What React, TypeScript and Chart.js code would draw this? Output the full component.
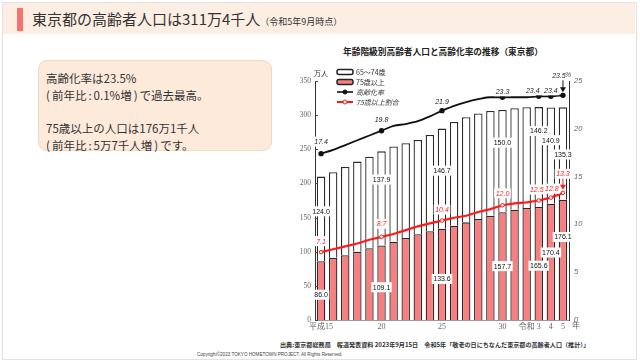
import React, { useEffect, useRef } from "react";
import { Chart, registerables } from "chart.js";
Chart.register(...registerables);

// ---- data ----
const categories = ["平成15", "16", "17", "18", "19", "20", "21", "22", "23", "24", "25", "26", "27", "28", "29", "30", "令和元", "2", "3", "4", "5"];
const xTickLabels = ["平成15", "", "", "", "", "20", "", "", "", "", "25", "", "", "", "", "30", "", "令和", "3", "4", "5"];
const age75plus = [86.0, 91.0, 95.0, 100.0, 105.0, 109.1, 114.5, 120.0, 125.5, 130.0, 133.6, 138.0, 143.0, 148.0, 152.5, 157.7, 161.5, 164.0, 165.6, 170.4, 176.1];
const age65to74 = [124.0, 125.5, 129.0, 132.0, 134.0, 137.9, 139.5, 139.0, 138.0, 141.0, 146.7, 152.0, 154.0, 154.5, 153.5, 150.0, 148.5, 147.5, 146.2, 140.9, 135.3];
const agingRate = [17.4, 17.8, 18.3, 18.8, 19.3, 19.8, 20.3, 20.5, 20.8, 21.3, 21.9, 22.4, 22.8, 23.1, 23.3, 23.3, 23.3, 23.3, 23.4, 23.4, 23.5];
const ratio75plus = [7.1, 7.4, 7.7, 8.0, 8.4, 8.7, 9.0, 9.4, 9.8, 10.1, 10.4, 10.7, 10.9, 11.3, 11.6, 12.0, 12.2, 12.3, 12.5, 12.8, 13.3];
const labeledIdx = [0, 5, 10, 15, 18, 19, 20];
const leftTicks = [0, 50, 100, 150, 200, 250, 300, 350];
const legendLabels = ["65～74歳", "75歳以上", "高齢化率", "75歳以上割合"];

const SANS = '"Liberation Sans", "Noto Sans CJK JP", sans-serif';
const CJK = '"Noto Sans CJK JP", sans-serif';
const SERIF = '"Liberation Serif", "Noto Sans CJK JP", serif';

// label placement helpers (fraction within segment / px above point)
const lowerFrac = [0.43, 0.44, 0.45, 0.5, 0.48, 0.58, 0.69];
const upperFrac = [0.59, 0.7, 0.58, 0.68, 0.76, 0.66, 0.49];
const blackAbove = [12, 11, 9, 6, 6, 6, 20];
const blackDx = [0, 0, 0, 0, -6, 0, -4];
const redAbove = [11, 13, 11, 12, 11, 9, 19];
const redDx = [0, 0, 0, 0, -2, 1, 0];

const overlay = {
  id: "overlay",
  afterDatasetsDraw(chart: any) {
    const { ctx, chartArea, scales } = chart;
    const xs = scales.x, ys = scales.y, y2 = scales.y2;
    ctx.save();

    // inward ticks on left axis
    ctx.strokeStyle = "#444";
    ctx.lineWidth = 1;
    for (const v of leftTicks) {
      const py = Math.round(ys.getPixelForValue(v)) + 0.5;
      ctx.beginPath();
      ctx.moveTo(chartArea.left, py);
      ctx.lineTo(chartArea.left + 3, py);
      ctx.stroke();
    }

    type Lab = { t: string; x: number; y: number; font: string; color: string };
    const labs: Lab[] = [];
    const barFont = `7px ${SANS}`;
    const lineFont = `italic 7px ${SANS}`;

    labeledIdx.forEach((i, k) => {
      const cx = xs.getPixelForValue(i);
      labs.push({ t: age75plus[i].toFixed(1), x: cx, y: ys.getPixelForValue(age75plus[i] * lowerFrac[k]), font: barFont, color: "#111" });
      labs.push({ t: age65to74[i].toFixed(1), x: cx, y: ys.getPixelForValue(age75plus[i] + age65to74[i] * upperFrac[k]), font: barFont, color: "#111" });
    });
    labeledIdx.forEach((i, k) => {
      const cx = xs.getPixelForValue(i);
      labs.push({ t: agingRate[i].toFixed(1), x: cx + blackDx[k], y: y2.getPixelForValue(agingRate[i]) - blackAbove[k], font: lineFont, color: "#222" });
      labs.push({ t: ratio75plus[i].toFixed(1), x: cx + redDx[k], y: y2.getPixelForValue(ratio75plus[i]) - redAbove[k], font: lineFont, color: "#ff1a1a" });
    });

    // white boxes first
    ctx.fillStyle = "#fff";
    for (const l of labs) {
      ctx.font = l.font;
      const w = ctx.measureText(l.t).width + 3;
      ctx.fillRect(l.x - w / 2, l.y - 5, w, 10);
    }
    ctx.textAlign = "center";
    ctx.textBaseline = "middle";
    for (const l of labs) {
      ctx.font = l.font;
      ctx.fillStyle = l.color;
      ctx.fillText(l.t, l.x, l.y + 0.5);
    }

    // arrows at latest year
    const last = labeledIdx[labeledIdx.length - 1];
    const arrow = (cx: number, y0: number, y1: number, color: string) => {
      ctx.strokeStyle = color;
      ctx.fillStyle = color;
      ctx.lineWidth = 1;
      ctx.beginPath();
      ctx.moveTo(cx, y0);
      ctx.lineTo(cx, y1 - 4);
      ctx.stroke();
      ctx.beginPath();
      ctx.moveTo(cx - 3, y1 - 5);
      ctx.lineTo(cx + 3, y1 - 5);
      ctx.lineTo(cx, y1);
      ctx.closePath();
      ctx.fill();
    };
    const lx = xs.getPixelForValue(last);
    arrow(lx, y2.getPixelForValue(agingRate[last]) - 15, y2.getPixelForValue(agingRate[last]) - 3, "#111");
    arrow(lx, y2.getPixelForValue(ratio75plus[last]) - 14, y2.getPixelForValue(ratio75plus[last]) - 3, "#ff1a1a");

    // units
    ctx.fillStyle = "#333";
    ctx.font = `7px ${CJK}`;
    ctx.textAlign = "center";
    ctx.textBaseline = "middle";
    ctx.fillText("万人", chartArea.left + 6, chartArea.top - 8);
    ctx.font = `italic 7px ${SANS}`;
    ctx.fillStyle = "#555";
    ctx.textAlign = "left";
    ctx.fillText("%", chartArea.right - 4, chartArea.top - 6);
    ctx.font = `8px ${SERIF}`;
    ctx.fillStyle = "#666";
    ctx.textAlign = "center";
    ctx.fillText("年", chartArea.right + 7, chartArea.bottom + 6);

    // legend
    const lgx = chartArea.left + 22;
    const lgy = chartArea.top - 9;
    const rowH = 10;
    legendLabels.forEach((t, r) => {
      const cy = lgy + r * rowH;
      if (r < 2) {
        ctx.fillStyle = r === 0 ? "#fff" : "#f77f7f";
        ctx.strokeStyle = "#222";
        ctx.lineWidth = 1.5;
        ctx.beginPath();
        ctx.roundRect(lgx, cy - 2.5, 16, 5, 2);
        ctx.fill();
        ctx.stroke();
      } else {
        const col = r === 2 ? "#111" : "#ff1a1a";
        ctx.strokeStyle = col;
        ctx.lineWidth = r === 2 ? 1.6 : 2;
        ctx.beginPath();
        ctx.moveTo(lgx, cy);
        ctx.lineTo(lgx + 16, cy);
        ctx.stroke();
        ctx.beginPath();
        ctx.arc(lgx + 8, cy, 2, 0, Math.PI * 2);
        ctx.fillStyle = r === 2 ? "#111" : "#fff";
        ctx.fill();
        ctx.lineWidth = 1;
        ctx.stroke();
      }
      ctx.fillStyle = "#333";
      ctx.font = r < 2 ? `7px ${CJK}` : `italic 7px ${CJK}`;
      ctx.textAlign = "left";
      ctx.textBaseline = "middle";
      ctx.fillText(t, lgx + 19, cy);
    });

    ctx.restore();
  },
};

function ChartBox() {
  const ref = useRef<HTMLCanvasElement | null>(null);
  useEffect(() => {
    if (!ref.current) return;
    const ptR = (r: number) => categories.map((_, i) => (labeledIdx.includes(i) ? r : 0));
    const chart = new Chart(ref.current, {
      type: "bar",
      data: {
        labels: categories,
        datasets: [
          {
            type: "line",
            label: "高齢化率",
            data: agingRate,
            yAxisID: "y2",
            borderColor: "#111",
            borderWidth: 1.8,
            backgroundColor: "#111",
            pointRadius: ptR(1.8),
            pointBackgroundColor: "#111",
            pointBorderColor: "#111",
            cubicInterpolationMode: "monotone",
            order: 0,
          } as any,
          {
            type: "line",
            label: "75歳以上割合",
            data: ratio75plus,
            yAxisID: "y2",
            borderColor: "#ff1a1a",
            borderWidth: 2.2,
            pointRadius: ptR(1.8),
            pointBackgroundColor: "#fff",
            pointBorderColor: "#ff1a1a",
            pointBorderWidth: 1,
            tension: 0,
            order: 0,
          } as any,
          {
            label: "75歳以上",
            data: age75plus,
            yAxisID: "y",
            backgroundColor: "#f77f7f",
            borderColor: "#2a2a2a",
            borderWidth: 1.3,
            barPercentage: 0.7,
            categoryPercentage: 1.0,
            order: 1,
          },
          {
            label: "65～74歳",
            data: age65to74,
            yAxisID: "y",
            backgroundColor: "#ffffff",
            borderColor: "#2a2a2a",
            borderWidth: 1.3,
            barPercentage: 0.7,
            categoryPercentage: 1.0,
            order: 1,
          },
        ],
      },
      options: {
        animation: false,
        responsive: false,
        layout: { padding: { top: 41, left: 0, right: 0, bottom: 0 } },
        plugins: { legend: { display: false }, tooltip: { enabled: false }, title: { display: false } },
        scales: {
          x: {
            stacked: true,
            grid: { display: false, drawTicks: false },
            border: { display: true, color: "#999", width: 1 },
            ticks: {
              autoSkip: false,
              maxRotation: 0,
              padding: 2,
              color: "#666",
              font: { family: SERIF, size: 8 },
              callback: (_v: any, i: number) => xTickLabels[i],
            },
            afterFit: (s: any) => {
              s.height = 15;
            },
          },
          y: {
            stacked: true,
            min: 0,
            max: 350,
            position: "left",
            grid: { display: false, drawTicks: false },
            border: { display: true, color: "#333", width: 1 },
            ticks: { stepSize: 50, color: "#666", padding: 4, font: { family: SERIF, size: 7.5 } },
            afterFit: (s: any) => {
              s.width = 45;
            },
          },
          y2: {
            min: 0,
            max: 25,
            position: "right",
            grid: { display: false, drawTicks: false },
            border: { display: true, color: "#333", width: 1 },
            ticks: { stepSize: 5, color: "#666", padding: 5, font: { family: SANS, size: 7.5, style: "italic" } },
            afterFit: (s: any) => {
              s.width = 31;
            },
          },
        },
      },
      plugins: [overlay],
    });
    return () => chart.destroy();
  }, []);
  return <canvas ref={ref} width={330} height={295} style={{ width: 330, height: 295, display: "block" }} />;
}

const P = ({ c }: { c: string }) => <span style={{ margin: "0 2px" }}>{c}</span>;

export default function App() {
  return (
    <div
      style={{
        position: "fixed",
        left: 0,
        top: 0,
        width: 640,
        height: 361,
        background: "#fff",
        overflow: "hidden",
        fontFamily: CJK,
        color: "#333",
      }}
    >
      <div style={{ position: "absolute", left: 2, top: 2, width: 633, height: 356, border: "1px solid #e2e2e2" }} />
      <div style={{ position: "absolute", left: 3, top: 3, width: 632, height: 31, background: "#fdeee3" }} />
      <div style={{ position: "absolute", left: 17, top: 8, width: 6, height: 23, background: "#f87171" }} />
      <div style={{ position: "absolute", left: 32, top: 9, fontSize: 15, lineHeight: "20px", whiteSpace: "nowrap", color: "#333" }}>
        東京都の高齢者人口は311万4千人
        <span style={{ fontSize: 9 }}>（令和5年9月時点）</span>
      </div>

      <div
        style={{
          position: "absolute",
          left: 38,
          top: 60,
          width: 232,
          height: 89,
          background: "#fdeadb",
          border: "1px solid #eadcbc",
          borderRadius: 9,
        }}
      />
      <div style={{ position: "absolute", left: 44, top: 70, fontSize: 11.5, lineHeight: "17px", whiteSpace: "nowrap", color: "#333" }}>
        <div style={{ marginLeft: 2 }}>高齢化率は23.5%</div>
        <div>
          <P c="(" />前年比<P c=":" />0.1%増<P c=")" />で過去最高。
        </div>
        <div style={{ height: 16 }} />
        <div style={{ marginLeft: 2 }}>75歳以上の人口は176万1千人</div>
        <div>
          <P c="(" />前年比<P c=":" />5万7千人増<P c=")" />です。
        </div>
      </div>

      <div style={{ position: "absolute", left: 343, top: 45, fontSize: 8.7, fontWeight: 700, whiteSpace: "nowrap", color: "#222" }}>
        年齢階級別高齢者人口と高齢化率の推移（東京都）
      </div>

      <div style={{ position: "absolute", left: 270, top: 40, width: 330, height: 295 }}>
        <ChartBox />
      </div>

      <div style={{ position: "absolute", left: 280, top: 340, fontSize: 6.1, fontWeight: 700, whiteSpace: "nowrap", color: "#333" }}>
        出典:東京都総務局　報道発表資料 2023年9月15日　令和5年「敬老の日にちなんだ東京都の高齢者人口（推計）」
      </div>
      <div style={{ position: "absolute", left: 197, top: 352, fontSize: 4.6, whiteSpace: "nowrap", color: "#444", fontFamily: SANS }}>
        Copyright©2023 TOKYO HOMETOWN PROJECT. All Rights Reserved.
      </div>
    </div>
  );
}
